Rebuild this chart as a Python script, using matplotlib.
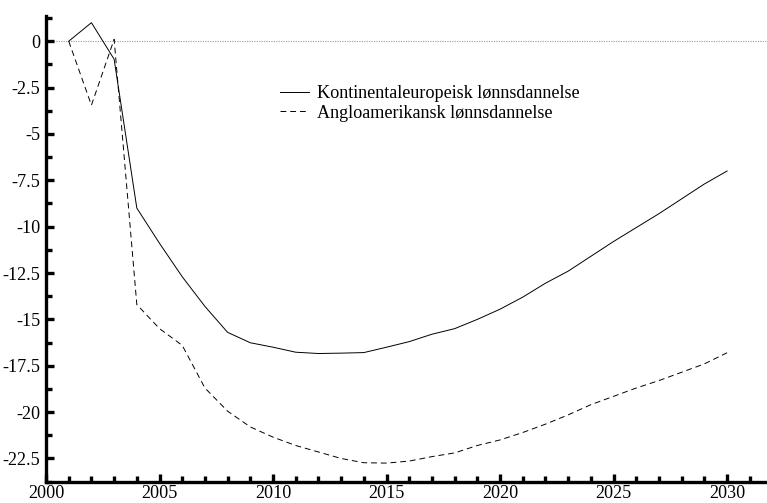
import matplotlib
matplotlib.use("Agg")
import matplotlib.pyplot as plt
from matplotlib.ticker import MultipleLocator

plt.rcParams['font.family'] = ['Liberation Serif', 'DejaVu Serif']

years = list(range(2001, 2031))
kontinental = [0.0, 1.0, -0.97, -9.0, -10.9, -12.7, -14.3, -15.7, -16.26, -16.5,
               -16.77, -16.84, -16.82, -16.79, -16.5, -16.2, -15.8, -15.5, -15.0, -14.45,
               -13.8, -13.05, -12.4, -11.6, -10.8, -10.05, -9.3, -8.5, -7.7, -7.0]
anglo = [0.0, -3.45, 0.1, -14.2, -15.5, -16.4, -18.7, -19.95, -20.8, -21.35,
         -21.8, -22.15, -22.5, -22.73, -22.75, -22.64, -22.4, -22.2, -21.8, -21.5,
         -21.1, -20.65, -20.15, -19.6, -19.15, -18.7, -18.3, -17.85, -17.4, -16.8]
labels = ['Kontinentaleuropeisk lønnsdannelse', 'Angloamerikansk lønnsdannelse']
y_ticks = [0, -2.5, -5, -7.5, -10, -12.5, -15, -17.5, -20, -22.5]
y_ticklabels = ['0', '-2.5', '-5', '-7.5', '-10', '-12.5', '-15', '-17.5', '-20', '-22.5']
x_ticks = [2000, 2005, 2010, 2015, 2020, 2025, 2030]

fig = plt.figure(figsize=(7.67, 5.03), dpi=100)
ax = fig.add_axes([0.06, 0.0417, 0.94, 0.9265])

ax.axhline(0, color='#999999', lw=0.8, ls=(0, (1, 1.2)), zorder=1)
ax.plot(years, kontinental, color='black', lw=0.7, label=labels[0])
ax.plot(years, anglo, color='black', lw=0.7, ls=(0, (6, 4)), label=labels[1])

ax.set_xlim(2000, 2031.76)
ax.set_ylim(-23.77, 1.36)

ax.set_yticks(y_ticks)
ax.set_yticklabels(y_ticklabels)
ax.set_xticks(x_ticks)
ax.yaxis.set_minor_locator(MultipleLocator(1.25))
ax.xaxis.set_minor_locator(MultipleLocator(1))

for s in ['top', 'right']:
    ax.spines[s].set_visible(False)
for s in ['left', 'bottom']:
    ax.spines[s].set_linewidth(2.4)

ax.tick_params(axis='both', which='major', direction='in', length=6, width=2.4,
               labelsize=13.1, pad=4)
ax.tick_params(axis='x', which='major', pad=2)
ax.tick_params(axis='both', which='minor', direction='in', length=4, width=2.4)

ax.legend(loc='upper left', bbox_to_anchor=(0.302, 0.887), frameon=False,
          fontsize=13.1, handlelength=1.6, handletextpad=0.4, labelspacing=0.15)

fig.savefig('out.png', dpi=100)
